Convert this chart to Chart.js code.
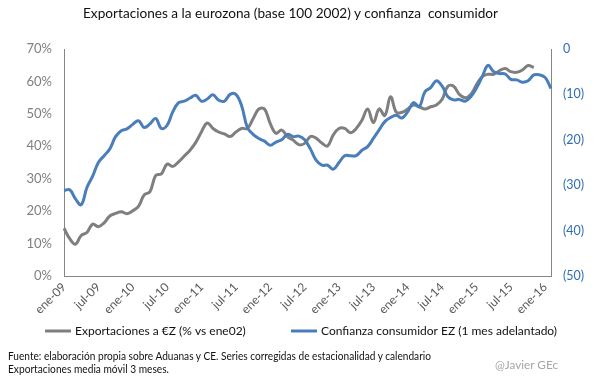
<!DOCTYPE html>
<html>
<head>
<meta charset="utf-8">
<script src="https://cdn.jsdelivr.net/npm/chart.js@4.4.1/dist/chart.umd.min.js"></script>
<style>
  html, body { margin: 0; padding: 0; background: #fff; }
  #wrap { position: relative; width: 605px; height: 378px; overflow: hidden; }
  #chart { position: absolute; left: 0; top: 0; }
  .txt { position: absolute; white-space: pre; font-family: Lato, "Open Sans", sans-serif; line-height: 1; transform-origin: 0 50%; }
</style>
</head>
<body>
<div id="wrap">
  <canvas id="chart" width="605" height="378"></canvas>
  <div class="txt" data-x="83" data-y="13" data-w="415" style="font-size:14px;color:#111">Exportaciones a la eurozona (base 100 2002) y confianza  consumidor</div>
  <div class="txt" data-x="8" data-y="356" data-w="423" style="font-size:10.5px;color:#111">Fuente: elaboración propia sobre Aduanas y CE. Series corregidas de estacionalidad y calendario</div>
  <div class="txt" data-x="8" data-y="369" data-w="161" style="font-size:10.5px;color:#111">Exportaciones media móvil 3 meses.</div>
  <div class="txt" data-x="495" data-y="365" data-w="63" style="font-size:12px;color:#a6a6a6">@Javier GEc</div>
</div>
<script>
// month labels ene-09 .. feb-16
const months = ['ene', 'feb', 'mar', 'abr', 'may', 'jun', 'jul', 'ago', 'sep', 'oct', 'nov', 'dic'];
const categories = [];
for (let yr = 9; yr <= 16; yr++) {
    for (let m = 0; m < 12; m++) {
        if (yr === 16 && m > 1) break;
        categories.push(months[m] + '-' + String(yr).padStart(2, '0'));
    }
}

// Exportaciones a la eurozona, % sobre ene-02 (media movil 3m)
const exportaciones = [
    14.7, 11.5, 9.8, 12.5, 13.4, 16.0, 15.2, 16.4, 18.5, 19.3,
    19.8, 19.2, 20.1, 21.5, 25.0, 26.0, 31.0, 31.5, 34.5, 33.8,
    35.2, 37.0, 38.8, 41.2, 44.5, 47.2, 45.5, 44.4, 43.8, 43.0,
    44.4, 45.5, 45.5, 48.5, 51.5, 51.5, 47.0, 44.0, 45.0, 43.0,
    41.9, 40.5, 40.9, 43.0, 42.5, 41.0, 40.1, 43.5, 45.5, 45.5,
    44.2, 45.5, 48.0, 51.5, 47.3, 51.5, 49.5, 55.3, 50.5, 50.5,
    51.5, 52.7, 52.2, 51.5, 52.2, 52.7, 54.5, 58.5, 58.5, 56.0,
    55.0, 56.0, 59.0, 61.5, 62.2, 62.2, 63.3, 64.0, 63.0, 62.8,
    63.5, 64.9, 64.3
];

// Confianza del consumidor EZ (1 mes adelantado)
const confianza = [
    -31.2, -31.0, -33.0, -34.3, -30.5, -28.0, -25.0, -23.5, -22.0, -19.3,
    -18.0, -17.6, -16.6, -15.8, -17.3, -16.5, -15.3, -17.5, -16.8, -13.8,
    -11.8, -11.5, -10.8, -10.2, -11.5, -11.0, -10.1, -11.3, -11.5, -10.0,
    -10.0, -12.5, -17.3, -18.8, -19.7, -20.3, -21.2, -20.5, -20.0, -18.8,
    -19.3, -19.2, -20.0, -22.0, -24.5, -25.6, -25.6, -26.5, -25.0, -23.5,
    -23.5, -23.5, -22.3, -21.5, -19.7, -17.8, -16.0, -15.1, -14.6, -15.2,
    -13.8, -11.8, -12.7, -9.4, -8.5, -7.0, -8.2, -10.5, -11.2, -11.1,
    -11.5, -10.5, -8.6, -6.1, -3.6, -5.0, -5.4, -5.5, -6.7, -6.8,
    -7.3, -7.0, -5.7, -5.7, -6.3, -8.7
];

const seriesNames = ['Exportaciones a €Z (% vs ene02)', 'Confianza consumidor EZ (1 mes adelantado)'];

// layout numbers (pixels)
const PLOT_LEFT = 64, PLOT_RIGHT = 551, PLOT_BOTTOM = 276;
const X_AXIS_H = 45;
const LEGEND_X = [45, 291], LEGEND_Y = 331;
const FONT = 'Lato, "Open Sans", sans-serif';

function placeTexts() {
    document.querySelectorAll('.txt').forEach(el => {
        const h = el.getBoundingClientRect().height;
        const w = el.getBoundingClientRect().width;
        el.style.left = el.dataset.x + 'px';
        el.style.top = (parseFloat(el.dataset.y) - h / 2) + 'px';
        el.style.transform = 'scaleX(' + (parseFloat(el.dataset.w) / w) + ')';
    });
}

// legend drawn at fixed spots, like the Excel original
const manualLegend = {
    id: 'manualLegend',
    afterDraw(chart) {
        const ctx = chart.ctx;
        chart.data.datasets.forEach((ds, i) => {
            const x = LEGEND_X[i];
            ctx.save();
            ctx.strokeStyle = ds.borderColor;
            ctx.lineWidth = 3;
            ctx.beginPath();
            ctx.moveTo(x, LEGEND_Y);
            ctx.lineTo(x + 26, LEGEND_Y);
            ctx.stroke();
            ctx.fillStyle = '#111';
            ctx.font = '12px ' + FONT;
            ctx.textBaseline = 'middle';
            ctx.fillText(ds.label, x + 30, LEGEND_Y + 0.5);
            ctx.restore();
        });
    }
};

function initChart() {
    const ctx = document.getElementById('chart');

    new Chart(ctx, {
        type: 'line',
        data: {
            labels: categories,
            datasets: [{
                label: seriesNames[0],
                data: exportaciones,
                yAxisID: 'y',
                borderColor: '#7f7f7f',
                backgroundColor: '#7f7f7f',
                borderWidth: 3,
                pointRadius: 0,
                tension: 0.4,
                order: 2
            }, {
                label: seriesNames[1],
                data: confianza,
                yAxisID: 'y2',
                borderColor: '#4a7ebb',
                backgroundColor: '#4a7ebb',
                borderWidth: 3,
                pointRadius: 0,
                tension: 0.4,
                order: 1
            }]
        },
        options: {
            responsive: false,
            animation: false,
            layout: {
                padding: { top: 49, left: 0, right: 0, bottom: 378 - PLOT_BOTTOM - X_AXIS_H }
            },
            scales: {
                x: {
                    type: 'category',
                    offset: false,
                    grid: { display: false, drawTicks: false },
                    border: { display: true, color: '#868686', width: 1 },
                    ticks: {
                        autoSkip: false,
                        minRotation: 45,
                        maxRotation: 45,
                        padding: 4,
                        color: '#595959',
                        font: { family: FONT, size: 12 },
                        callback: function(val, idx) {
                            return idx % 6 === 0 ? this.getLabelForValue(val) : '';
                        }
                    },
                    afterFit: function(scale) {
                        scale.height = X_AXIS_H;
                    }
                },
                y: {
                    position: 'left',
                    min: 0,
                    max: 70,
                    grid: { display: false, drawTicks: false },
                    border: { display: true, color: '#868686', width: 1 },
                    ticks: {
                        stepSize: 10,
                        padding: 12,
                        color: '#7f7f7f',
                        font: { family: FONT, size: 13 },
                        callback: v => v + '%'
                    },
                    afterFit: function(scale) {
                        scale.width = PLOT_LEFT;
                    }
                },
                y2: {
                    position: 'right',
                    min: -50,
                    max: 0,
                    grid: { display: false, drawTicks: false },
                    border: { display: true, color: '#868686', width: 1 },
                    ticks: {
                        stepSize: 10,
                        padding: 12,
                        color: '#2f6eb5',
                        font: { family: FONT, size: 12.5 },
                        callback: v => v === 0 ? '0' : '(' + Math.abs(v) + ')'
                    },
                    afterFit: function(scale) {
                        scale.width = 605 - PLOT_RIGHT;
                    }
                }
            },
            plugins: {
                legend: { display: false },
                tooltip: { enabled: false }
            }
        },
        plugins: [manualLegend]
    });
}

document.addEventListener('DOMContentLoaded', function() {
    placeTexts();
    initChart();
});
</script>
</body>
</html>
